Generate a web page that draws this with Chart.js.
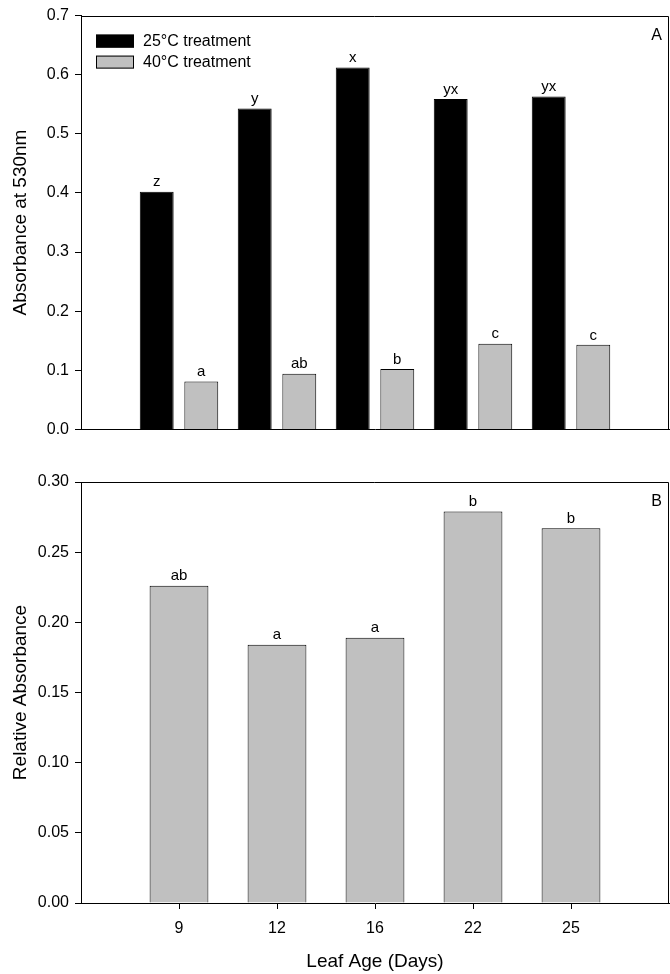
<!DOCTYPE html>
<html>
<head>
<meta charset="utf-8">
<script src="https://cdn.jsdelivr.net/npm/chart.js@4.4.1/dist/chart.umd.min.js"></script>
<style>
  body { margin: 0; background: #fff; }
  #wrap { position: relative; width: 670px; height: 974px; }
  .box { position: absolute; left: 0; width: 670px; }
</style>
</head>
<body>
<div id="wrap">
  <div class="box" style="top:0; height:445px;"><canvas id="chartA"></canvas></div>
  <div class="box" style="top:445px; height:529px;"><canvas id="chartB"></canvas></div>
</div>
<script>
// leaf age categories (days)
const days = ['9', '12', '16', '22', '25']

// panel A - absorbance at 530nm
const abs25 = [0.402, 0.543, 0.612, 0.559, 0.563]
const abs40 = [0.081, 0.094, 0.102, 0.145, 0.143]
const letters25 = ['z', 'y', 'x', 'yx', 'yx']
const letters40 = ['a', 'ab', 'b', 'c', 'c']
const yTicksA = [0, 0.1, 0.2, 0.3, 0.4, 0.5, 0.6, 0.7]

// panel B - relative absorbance
const relAbs = [0.226, 0.184, 0.189, 0.279, 0.267]
const lettersB = ['ab', 'a', 'a', 'b', 'b']
const yTicksB = [0, 0.05, 0.10, 0.15, 0.20, 0.25, 0.30]

Chart.defaults.font.family = '"Liberation Sans", Arial, sans-serif'
Chart.defaults.color = '#000'

// blank slot at both ends so the bars sit at 1/6 .. 5/6 of the axis
const labels = [''].concat(days, [''])
const pad = arr => [null].concat(arr, [null])

// letters above the bars
const barLetters = {
  id: 'barLetters',
  afterDatasetsDraw(chart) {
    const ctx = chart.ctx
    ctx.save()
    ctx.font = '15px "Liberation Sans", Arial, sans-serif'
    ctx.fillStyle = '#000'
    ctx.textAlign = 'center'
    ctx.textBaseline = 'bottom'
    chart.data.datasets.forEach((ds, i) => {
      const meta = chart.getDatasetMeta(i)
      meta.data.forEach((el, j) => {
        if (ds.data[j] == null) return
        ctx.fillText(ds.letters[j - 1], el.x, el.y - 2)
      })
    })
    ctx.restore()
  }
}

// top + right border of the plot, and the panel letter
const frame = {
  id: 'frame',
  afterDraw(chart, args, opts) {
    const a = chart.chartArea
    const ctx = chart.ctx
    const t = Math.round(a.top) + 0.5
    const r = Math.round(a.right) - 0.5
    ctx.save()
    ctx.strokeStyle = '#000'
    ctx.lineWidth = 1
    ctx.beginPath()
    ctx.moveTo(a.left, t)
    ctx.lineTo(r, t)
    ctx.lineTo(r, a.bottom)
    ctx.stroke()
    ctx.font = '16px "Liberation Sans", Arial, sans-serif'
    ctx.fillStyle = '#000'
    ctx.textAlign = 'right'
    ctx.textBaseline = 'middle'
    ctx.fillText(opts.text, a.right - 7, a.top + 20)
    ctx.restore()
  }
}

// legend drawn inside the top plot
const boxLegend = {
  id: 'boxLegend',
  afterDraw(chart, args, opts) {
    if (!opts.show) return
    const a = chart.chartArea
    const ctx = chart.ctx
    ctx.save()
    ctx.font = '16px "Liberation Sans", Arial, sans-serif'
    ctx.textBaseline = 'middle'
    ctx.textAlign = 'left'
    chart.data.datasets.forEach((ds, i) => {
      const x = a.left + 15
      const y = a.top + 19 + i * 21
      ctx.fillStyle = ds.backgroundColor
      ctx.fillRect(x, y, 38, 13)
      ctx.strokeStyle = '#000'
      ctx.lineWidth = 1
      ctx.strokeRect(x + 0.5, y + 0.5, 37, 12)
      ctx.fillStyle = '#000'
      ctx.fillText(ds.label, x + 47, y + 7)
    })
    ctx.restore()
  }
}

const hideEndTicks = c => (c.index === 0 || c.index === labels.length - 1) ? 'rgba(0,0,0,0)' : '#000'

function yAxis(title, ticks, digits, max) {
  return {
    min: 0,
    max: max,
    afterFit: s => { s.width = 81 },
    afterBuildTicks: s => { s.ticks = ticks.map(v => ({ value: v })) },
    ticks: {
      font: { size: 16 },
      padding: 6,
      callback: v => Number(v).toFixed(digits)
    },
    grid: { drawOnChartArea: false, drawTicks: true, tickLength: 6, tickColor: '#000' },
    border: { display: true, color: '#000', width: 1 },
    title: { display: true, text: title, font: { size: 19 }, padding: { top: 9, bottom: 0 } }
  }
}

new Chart(document.getElementById('chartA'), {
  type: 'bar',
  data: {
    labels: labels,
    datasets: [{
      label: '25°C treatment',
      data: pad(abs25),
      letters: letters25,
      backgroundColor: '#000000',
      borderColor: '#000000',
      borderWidth: 1
    }, {
      label: '40°C treatment',
      data: pad(abs40),
      letters: letters40,
      backgroundColor: '#c0c0c0',
      borderColor: '#000000',
      borderWidth: 1
    }]
  },
  options: {
    responsive: true,
    maintainAspectRatio: false,
    animation: false,
    categoryPercentage: 0.91,
    barPercentage: 0.76,
    layout: { padding: { top: 10, right: 1, left: 0, bottom: 0 } },
    scales: {
      x: {
        offset: false,
        afterFit: s => { s.height = 15; s.paddingLeft = 0; s.paddingRight = 0 },
        ticks: { display: false },
        grid: { display: true, drawOnChartArea: false, drawTicks: false, offset: false },
        border: { display: true, color: '#000', width: 1 }
      },
      y: yAxis('Absorbance at 530nm', yTicksA, 1, 0.7)
    },
    plugins: {
      legend: { display: false },
      tooltip: { enabled: false },
      frame: { text: 'A' },
      boxLegend: { show: true }
    }
  },
  plugins: [barLetters, frame, boxLegend]
})

new Chart(document.getElementById('chartB'), {
  type: 'bar',
  data: {
    labels: labels,
    datasets: [{
      label: 'Relative absorbance',
      data: pad(relAbs),
      letters: lettersB,
      backgroundColor: '#c0c0c0',
      borderColor: '#000000',
      borderWidth: 1
    }]
  },
  options: {
    responsive: true,
    maintainAspectRatio: false,
    animation: false,
    categoryPercentage: 0.6,
    barPercentage: 1.0,
    layout: { padding: { top: 37, right: 1, left: 0, bottom: 0 } },
    scales: {
      x: {
        offset: false,
        afterFit: s => { s.height = 71; s.paddingLeft = 0; s.paddingRight = 0 },
        ticks: { font: { size: 16 }, padding: 10, maxRotation: 0, autoSkip: false },
        grid: { drawOnChartArea: false, drawTicks: true, tickLength: 6, tickColor: hideEndTicks, offset: false },
        border: { display: true, color: '#000', width: 1 },
        title: { display: true, text: 'Leaf Age (Days)', font: { size: 19 }, padding: { top: 0, bottom: 1 } }
      },
      y: yAxis('Relative Absorbance', yTicksB, 2, 0.3)
    },
    plugins: {
      legend: { display: false },
      tooltip: { enabled: false },
      frame: { text: 'B' },
      boxLegend: { show: false }
    }
  },
  plugins: [barLetters, frame, boxLegend]
})
</script>
</body>
</html>
